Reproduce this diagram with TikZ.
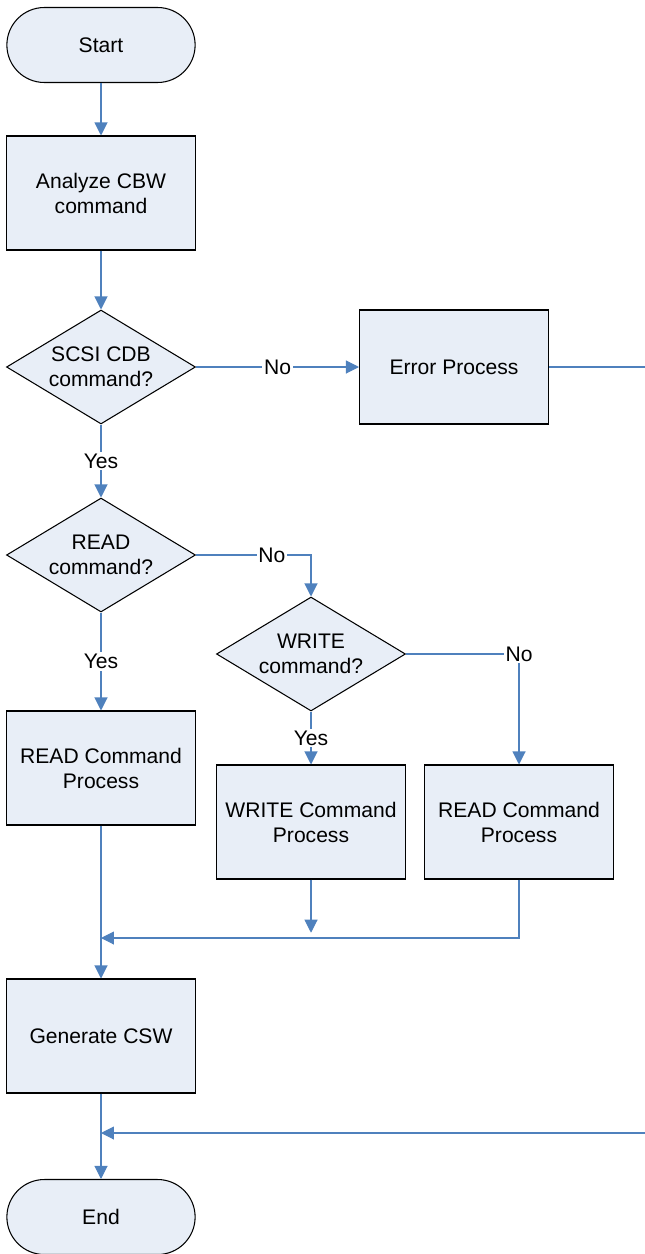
\documentclass[tikz,border=0pt]{standalone}
\usepackage{fontspec}
\setmainfont{Liberation Sans}
\usetikzlibrary{shapes.geometric,shapes.misc,arrows.meta}
\definecolor{boxfill}{HTML}{E8EEF7}
\definecolor{wire}{HTML}{4F81BD}

\begin{document}
\begin{tikzpicture}[x=0.02cm,y=-0.02cm,
        font=\fontsize{12}{14.2}\selectfont,
        term/.style={rounded rectangle,draw,fill=boxfill,line width=0.6pt,minimum width=4.0cm,minimum height=1.5cm},
        proc/.style={rectangle,draw,fill=boxfill,line width=0.6pt,minimum width=3.78cm,minimum height=2.28cm,align=center},
        test/.style={diamond,draw,fill=boxfill,line width=0.6pt,aspect=1.66,inner sep=-3pt,minimum width=3.78cm,minimum height=2.28cm,align=center},
        flow/.style={draw=wire,line width=0.6pt,-{Triangle[length=0.26cm,width=0.26cm]}},
        wire/.style={draw=wire,line width=0.6pt},
        lbl/.style={fill=white,inner sep=1pt}]
        \useasboundingbox (0,0) rectangle (645,1254);

        % 1. Left column
        \node (s0) at (101,45) [term] {Start};
        \node (p0) at (101,193) [proc] {Analyze CBW\\command};
        \node (d1) at (101,367) [test] {SCSI CDB\\command?};
        \node (d2) at (101,555) [test] {READ\\command?};
        \node (rp1) at (101,768) [proc] {READ Command\\Process};
        \node (g1) at (101,1036) [proc] {Generate CSW};
        \node (e0) at (101,1217) [term] {End};

        % 2. Right side branches
        \node (ep) at (454,367) [proc] {Error Process};
        \node (d3) at (311,654) [test] {WRITE\\command?};
        \node (wp) at (311,822) [proc] {WRITE Command\\Process};
        \node (rp2) at (519,822) [proc] {READ Command\\Process};

        % Join points
        \coordinate (m1) at (101,938);
        \coordinate (m2) at (101,1133);
        \coordinate (errTop) at (645,367);
        \coordinate (errBot) at (645,1133);

        % 3. Main flow
        \draw[flow] (s0.south) -- (p0.north);
        \draw[flow] (p0.south) -- (d1.north);
        \draw[flow] (d1.south) -- node[lbl] {Yes} (d2.north);
        \draw[flow] (d2.south) -- node[lbl] {Yes} (rp1.north);
        \draw[flow] (rp1.south) -- (g1.north);
        \draw[flow] (g1.south) -- (e0.north);

        % 4. No branches
        \draw[flow] (d1.east) -- node[lbl] {No} (ep.west);
        \draw[flow] (d2.east) -| node[lbl,pos=0.33] {No} (d3.north);
        \draw[flow] (d3.south) -- node[lbl] {Yes} (wp.north);
        \draw[flow] (d3.east) -| node[lbl,pos=0.5] {No} (rp2.north);

        % 5. Merging back
        \draw[flow,shorten >=3pt] (wp.south) -- (wp.south |- m1);
        \draw[flow] (rp2.south) |- (m1);
        \draw[wire] (ep.east) -- (errTop);
        \draw[flow] (errBot) -- (m2);
    \end{tikzpicture}
\end{document}
